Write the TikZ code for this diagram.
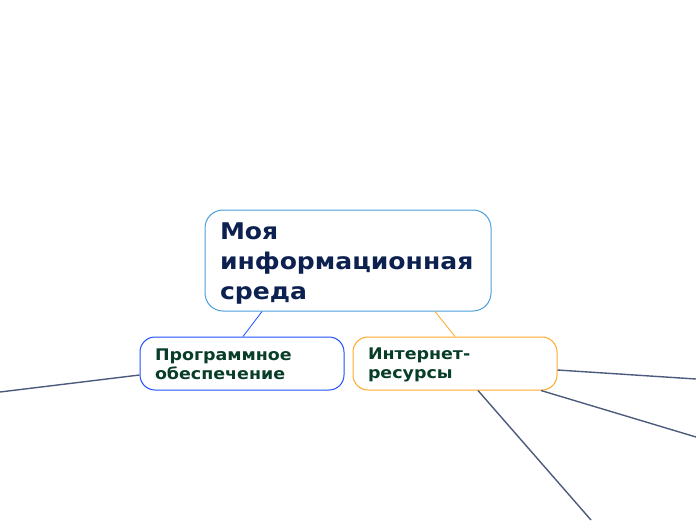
\documentclass[tikz,border=0pt]{standalone}
\usepackage{fontspec}
\setmainfont{DejaVu Sans}[FakeStretch=1.09]
\definecolor{mainborder}{HTML}{4A9FDC}
\definecolor{maintext}{HTML}{0D2150}
\definecolor{childtext}{HTML}{083D28}
\definecolor{blueborder}{HTML}{1F4FFF}
\definecolor{orangeborder}{HTML}{FFA929}
\definecolor{branch}{HTML}{4C5A7C}
\begin{document}
\begin{tikzpicture}[x=1pt,y=-1pt,
  mainbox/.style={draw=mainborder, line width=1pt, fill=white, rounded corners=18pt,
    minimum width=286pt, minimum height=101pt, inner sep=0pt},
  maintxt/.style={text width=256pt, align=left, inner sep=0pt,
    font=\fontsize{23}{30}\selectfont\bfseries, text=maintext},
  childbox/.style={line width=1pt, fill=white, rounded corners=15pt,
    minimum width=204pt, minimum height=53pt, inner sep=0pt},
  childtxt/.style={text width=174pt, align=left, inner sep=0pt,
    font=\fontsize{16}{19}\selectfont\bfseries, text=childtext},
  branchline/.style={draw=branch, line width=1.4pt}]
\useasboundingbox (0,0) rectangle (696,520);
\node[mainbox] (main) at (348,260.5) {};
\node[maintxt] (maint) at ([yshift=-3pt]main.center) {Моя\\информационная\\среда};
\node[childbox, draw=blueborder] (c1) at (242,363.5) {};
\node[childtxt] (c1t) at ([yshift=-1pt]c1.center) {Программное\\обеспечение};
\node[childbox, draw=orangeborder] (c2) at (455,363.5) {};
\node[childtxt] (c2t) at ([yshift=-1pt]c2.center) {Интернет-\\ресурсы};
\coordinate (e1) at (0,392);
\coordinate (e2) at (696,379);
\coordinate (e3) at (696,437);
\coordinate (e4) at (591,520);
\draw[blueborder, line width=0.8pt] ([xshift=-86pt]main.south) -- ([xshift=1pt]c1.north);
\draw[orangeborder, line width=0.8pt] ([xshift=87pt]main.south) -- (c2.north);
\draw[branchline] ([yshift=-11.5pt]c1.west) -- (e1);
\draw[branchline] ([yshift=-6.5pt]c2.east) -- (e2);
\draw[branchline] ([xshift=86pt]c2.south) -- (e3);
\draw[branchline] ([xshift=23pt]c2.south) -- (e4);
\end{tikzpicture}
\end{document}
